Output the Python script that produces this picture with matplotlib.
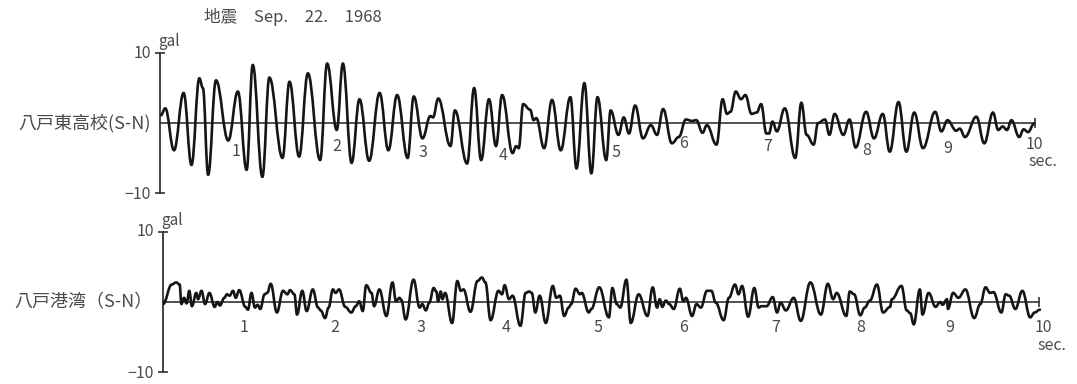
import matplotlib
matplotlib.use('Agg')
import matplotlib.pyplot as plt
from matplotlib.path import Path
from matplotlib.patches import PathPatch

plt.rcParams['font.family'] = ['Noto Sans CJK JP', 'DejaVu Sans']

# 八戸東高校 (S-N)  time [s], acceleration [gal]
t_east = [0.01, 0.06, 0.16, 0.27, 0.36, 0.45, 0.49, 0.55, 0.64, 0.78, 0.89, 0.99,
          1.06, 1.17, 1.25, 1.40, 1.48, 1.59, 1.69, 1.83, 1.91, 2.02, 2.09, 2.19,
          2.28, 2.39, 2.51, 2.61, 2.71, 2.83, 2.90, 3.00, 3.09, 3.12, 3.18, 3.32,
          3.37, 3.51, 3.59, 3.67, 3.76, 3.84, 3.91, 4.03, 4.07, 4.10, 4.15, 4.23,
          4.27, 4.30, 4.39, 4.48, 4.58, 4.69, 4.76, 4.85, 4.93, 5.00, 5.10, 5.15,
          5.24, 5.30, 5.36, 5.43, 5.52, 5.61, 5.68, 5.75, 5.85, 5.93, 6.01, 6.08,
          6.13, 6.20, 6.25, 6.36, 6.43, 6.48, 6.52, 6.58, 6.64, 6.69, 6.76, 6.82,
          6.87, 6.93, 6.96, 7.00, 7.05, 7.14, 7.26, 7.33, 7.39, 7.47, 7.52, 7.60,
          7.65, 7.71, 7.81, 7.88, 7.95, 8.07, 8.16, 8.26, 8.34, 8.44, 8.53, 8.62,
          8.72, 8.86, 8.93, 9.00, 9.10, 9.14, 9.20, 9.33, 9.42, 9.52, 9.58, 9.63,
          9.68, 9.73, 9.82, 9.87, 9.92, 9.99]
a_east = [1.1, 2.1, -3.9, 4.3, -6.0, 6.4, 5.0, -7.4, 6.1, -2.5, 4.5, -6.7,
          8.3, -7.7, 6.5, -5.0, 5.9, -4.8, 7.1, -5.3, 8.5, -1.0, 8.5, -5.7,
          3.4, -5.4, 4.3, -3.9, 4.0, -5.0, 3.8, -2.2, 1.0, 0.8, 3.5, -3.3,
          1.8, -5.8, 5.0, -5.3, 3.4, -3.3, 4.0, -4.3, -3.3, -3.6, 2.7, 1.9,
          0.4, 0.7, -3.6, 3.3, -3.9, 3.7, -6.5, 5.7, -7.2, 3.7, -5.3, 1.8,
          -1.7, 0.8, -1.5, 2.5, -2.2, -0.3, -1.7, 2.0, -2.9, -2.0, 0.5, 0.3,
          0.4, -1.4, -0.3, -3.1, 3.4, 1.3, 1.6, 4.5, 3.4, 4.0, 1.3, 1.5,
          2.7, -1.5, -1.5, 0.2, -1.2, 2.1, -5.0, 2.9, -1.7, -3.1, 0.0, 0.5,
          -1.7, 1.3, -1.7, 0.5, -3.5, 1.6, -2.2, 1.3, -4.1, 3.0, -4.1, 1.5,
          -3.6, 1.6, -1.2, 0.4, -1.1, -0.8, -2.0, 0.9, -2.9, 1.5, -1.0, -0.5,
          -1.0, 0.4, -2.0, -0.9, -1.3, -0.1]

# 八戸港湾 (S-N)
t_port = [0.00, 0.10, 0.15, 0.19, 0.21, 0.24, 0.27, 0.30, 0.33, 0.38, 0.40, 0.44,
          0.48, 0.53, 0.59, 0.62, 0.65, 0.70, 0.73, 0.76, 0.80, 0.83, 0.87, 0.94,
          0.97, 1.01, 1.05, 1.08, 1.11, 1.16, 1.19, 1.23, 1.30, 1.37, 1.42, 1.45,
          1.50, 1.53, 1.59, 1.64, 1.71, 1.77, 1.80, 1.85, 1.89, 1.94, 1.97, 2.01,
          2.08, 2.15, 2.20, 2.24, 2.28, 2.32, 2.38, 2.41, 2.47, 2.55, 2.62, 2.66,
          2.70, 2.72, 2.77, 2.86, 2.93, 2.96, 3.00, 3.04, 3.09, 3.12, 3.14, 3.17,
          3.19, 3.22, 3.30, 3.36, 3.40, 3.43, 3.51, 3.59, 3.64, 3.68, 3.74, 3.83,
          3.87, 3.90, 3.95, 3.99, 4.08, 4.14, 4.18, 4.21, 4.25, 4.30, 4.37, 4.45,
          4.49, 4.53, 4.58, 4.63, 4.66, 4.71, 4.76, 4.78, 4.86, 4.89, 4.98, 5.09,
          5.13, 5.18, 5.22, 5.29, 5.34, 5.43, 5.53, 5.59, 5.64, 5.67, 5.70, 5.74,
          5.78, 5.83, 5.90, 5.94, 5.97, 6.04, 6.09, 6.14, 6.21, 6.26, 6.31, 6.40,
          6.46, 6.53, 6.57, 6.61, 6.68, 6.75, 6.80, 6.83, 6.89, 6.96, 7.01, 7.05,
          7.11, 7.20, 7.28, 7.39, 7.51, 7.59, 7.65, 7.69, 7.80, 7.84, 7.89, 7.96,
          8.01, 8.07, 8.15, 8.22, 8.30, 8.32, 8.43, 8.49, 8.53, 8.57, 8.64, 8.67,
          8.74, 8.82, 8.87, 8.90, 8.95, 8.96, 9.02, 9.08, 9.16, 9.26, 9.33, 9.39,
          9.44, 9.48, 9.57, 9.62, 9.66, 9.73, 9.81, 9.90, 9.95, 10.01]
a_port = [-0.3, 2.5, 2.8, 2.5, -0.3, 0.6, -0.2, 1.6, -0.6, 1.3, 0.4, 1.6,
          -0.3, 1.3, -0.7, 0.0, -0.5, 0.6, 1.1, 0.9, 1.6, 0.6, 1.7, -0.7,
          -1.1, 1.3, -0.8, -0.4, -1.0, 1.1, 1.3, 2.6, -1.5, 1.6, 1.1, 1.7,
          1.1, -1.8, 1.6, -1.3, 1.8, -0.8, -1.2, -2.3, -0.8, 1.8, 1.3, 1.8,
          -0.7, -1.5, -0.6, 0.1, -1.3, 2.4, 1.3, -0.6, 1.8, -2.0, 2.8, 0.1,
          0.6, 0.3, -2.5, 3.2, -0.8, -0.3, -1.2, -0.1, 2.0, 1.5, 0.1, 1.5,
          0.4, 1.3, -3.0, 3.0, 1.6, 1.8, -1.4, 3.0, 3.5, 2.8, -2.6, 1.6,
          1.1, 2.4, 0.4, 0.9, -3.4, 1.3, 1.5, 1.3, -1.5, 0.9, -3.0, 2.3,
          0.6, 0.9, -2.0, -0.8, -0.3, 1.9, 1.1, 1.3, -1.5, -1.0, 2.1, -2.2,
          2.0, -0.3, -0.8, 3.2, -3.0, 1.1, -2.0, 2.1, -0.8, 0.4, -0.7, 0.2,
          -0.3, -1.0, 1.9, 0.1, 0.6, -2.0, -0.3, -0.8, 1.6, 1.6, -0.1, -2.6,
          0.6, 2.5, 1.1, 2.3, -2.1, 2.0, -0.8, -0.6, -0.6, 0.7, -1.5, -0.1,
          -1.2, 0.6, -2.7, 2.8, -1.8, 2.6, 0.4, 1.3, -2.0, 1.5, 1.1, -1.9,
          -0.8, 0.2, 2.5, -1.5, -0.7, 0.4, 2.3, -1.2, -1.6, -3.2, 1.8, -1.8,
          1.3, -0.7, 0.0, -0.4, 0.4, -1.0, 1.3, 0.6, 1.8, -2.3, -0.3, 2.1,
          1.3, 1.4, -1.5, 1.1, 0.9, -1.0, 1.6, -2.2, -1.5, -1.1]

# hand-placed second labels (time, value) as drawn on each record
sec_labels = ['1', '2', '3', '4', '5', '6', '7', '8', '9', '10']
sec_t_east = [0.87, 2.02, 3.01, 3.92, 5.21, 5.98, 6.95, 8.08, 9.00, 9.99]
sec_a_east = [-4.1, -3.4, -4.2, -4.6, -4.2, -2.9, -3.3, -3.9, -3.6, -3.1]
sec_t_port = [0.93, 1.96, 2.95, 3.92, 4.97, 5.94, 6.99, 7.96, 8.98, 10.05]
sec_a_port = [-3.6, -3.7, -3.6, -3.6, -3.7, -3.6, -3.7, -3.7, -3.6, -3.7]

title = '地震　Sep.　22.　1968'
names = ['八戸東高校(S-N)', '八戸港湾（S-N）']
name_x = [-0.1, -0.12]

txt = '#4a4a4a'
W, H = 1077, 384
fig = plt.figure(figsize=(W / 100, H / 100), dpi=100)


def pen_path(t, a):
    # smooth pen trace: cubic segments through the read extrema,
    # flat tangent at each read point
    verts = [(t[0], a[0])]
    codes = [Path.MOVETO]
    for i in range(len(t) - 1):
        d = (t[i + 1] - t[i]) * 0.4
        verts += [(t[i] + d, a[i]), (t[i + 1] - d, a[i + 1]), (t[i + 1], a[i + 1])]
        codes += [Path.CURVE4] * 3
    return Path(verts, codes)


# axes placed in pixels: (left px, zero-gal px from top, px per second)
layout = [(160, 123, 87.5), (163, 302, 87.6)]
records = [(t_east, a_east, sec_t_east, sec_a_east, (10.09, -5.5)),
           (t_port, a_port, sec_t_port, sec_a_port, (10.15, -6.2))]

for (x0, y0, pps), (tt, aa, st, sa, secpos), name, nx in zip(layout, records, names, name_x):
    xmax = 10.8
    ax = fig.add_axes([x0 / W, (H - y0 - 73.5) / H, xmax * pps / W, 147 / H])
    ax.set_xlim(0, xmax)
    ax.set_ylim(-10.5, 10.5)
    ax.add_patch(PathPatch(pen_path(tt, aa), fill=False, edgecolor='#151515',
                           lw=1.9, joinstyle='round', capstyle='round', zorder=3))
    for s in ['top', 'right']:
        ax.spines[s].set_visible(False)
    ax.spines['left'].set_bounds(-10, 10)
    ax.spines['left'].set_color('#333333')
    ax.spines['left'].set_linewidth(1.3)
    ax.spines['bottom'].set_position(('data', 0))
    ax.spines['bottom'].set_bounds(0, 10)
    ax.spines['bottom'].set_color('#333333')
    ax.spines['bottom'].set_linewidth(1.2)
    ax.set_yticks([-10, 10])
    ax.set_yticklabels([])
    ax.set_xticks([10])
    ax.set_xticklabels([])
    ax.tick_params(axis='both', direction='inout', length=7, width=1.2,
                   color='#333333')
    ax.patch.set_visible(False)

    ax.text(-0.1, 10, '10', ha='right', va='center', fontsize=11.5, color=txt)
    ax.text(-0.1, -10.2, '\u221210', ha='right', va='center', fontsize=11.5, color=txt)
    ax.text(-0.02, 11.6, 'gal', ha='left', va='center', fontsize=11, color=txt)
    ax.text(nx, 0, name, ha='right', va='center', fontsize=13, color=txt)
    for lab, x, y in zip(sec_labels, st, sa):
        ax.text(x, y, lab, ha='center', va='center', fontsize=11.5, color=txt)
    ax.text(secpos[0], secpos[1], 'sec.', ha='center', va='center',
            fontsize=11.5, color=txt)

fig.text(204 / W, 1 - 17 / H, title, ha='left', va='center', fontsize=12,
         color=txt)

fig.savefig('out.png', dpi=100)
